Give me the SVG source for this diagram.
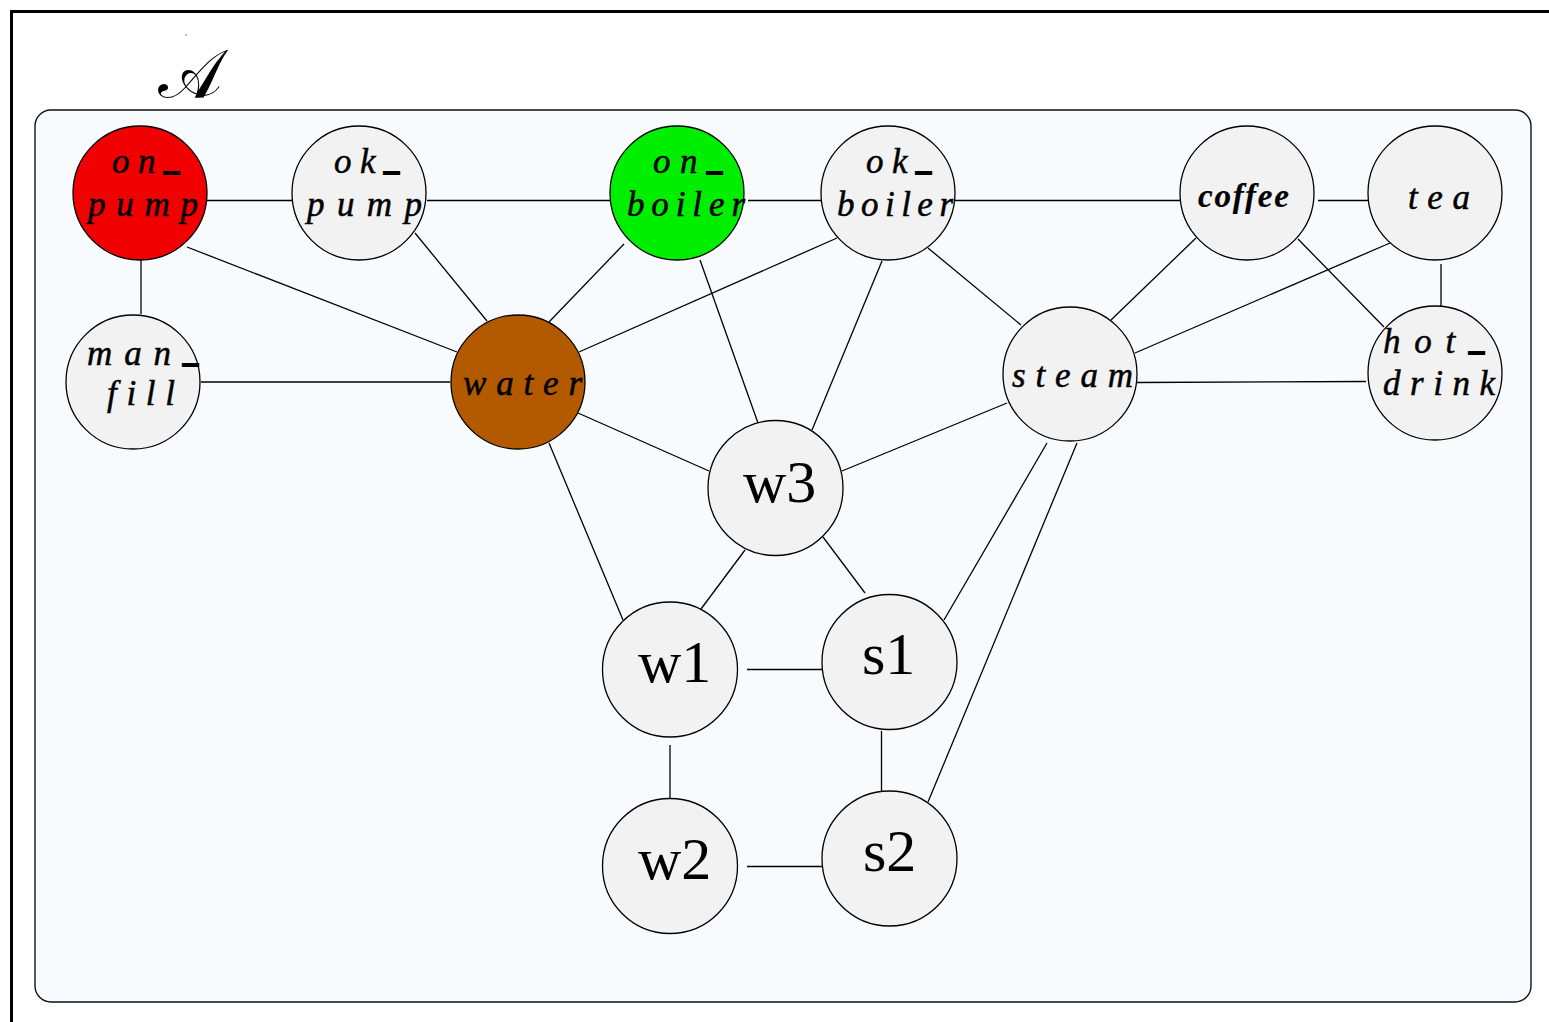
<svg xmlns="http://www.w3.org/2000/svg" width="1549" height="1022" viewBox="0 0 1549 1022">
  <style>
    .frame { fill: none; stroke: #000; stroke-width: 3; }
    .panel { fill: #F7FBFE; stroke: #111; stroke-width: 1.4; }
    .edge { stroke: #000; stroke-width: 1.3; fill: none; }
    .node { fill: #F2F2F2; stroke: #000; stroke-width: 1.3; }
    .lbl { font-family: "Liberation Serif", "Times New Roman", serif; font-style: italic; font-size: 35px; fill: #000; stroke: #000; stroke-width: 0.5; }
    .bold { font-weight: bold; font-size: 33px; stroke-width: 0.2; }
    .us { font-style: normal; font-weight: bold; font-size: 30px; stroke: #000; stroke-width: 1.8; }
    .big { font-family: "Liberation Serif", "Times New Roman", serif; font-size: 60px; fill: #000; }
    .title { font-family: "DejaVu Serif", "DejaVu Sans", serif; font-size: 68px; fill: #000; }
  </style>

  <!-- outer frame (top and left rules) -->
  <g id="frame">
    <path class="frame" d="M 10 11.5 H 1549 M 11.5 10 V 1022"/>
    <circle cx="186" cy="35" r="0.7" fill="#555"/>
    <text class="title" x="190" y="97" text-anchor="middle">𝒜</text>
  </g>

  <!-- container panel -->
  <rect id="panel" class="panel" x="35" y="110" width="1496" height="892" rx="16" ry="16"/>

  <!-- connectors -->
  <g id="connectors">
    <line class="edge" x1="207" y1="200.5" x2="292" y2="200.5"/>
    <line class="edge" x1="427" y1="200.5" x2="610" y2="200.5"/>
    <line class="edge" x1="748" y1="200.5" x2="821" y2="200.5"/>
    <line class="edge" x1="955" y1="200.5" x2="1180" y2="200.5"/>
    <line class="edge" x1="1318" y1="200.5" x2="1368" y2="200.5"/>
    <line class="edge" x1="1441" y1="264" x2="1441" y2="306"/>
    <line class="edge" x1="1298" y1="239" x2="1384" y2="327"/>
    <line class="edge" x1="1390" y1="243" x2="1135" y2="353"/>
    <line class="edge" x1="1196" y1="238" x2="1111" y2="320"/>
    <line class="edge" x1="1137" y1="382.5" x2="1366" y2="381.5"/>
    <line class="edge" x1="928" y1="248" x2="1021" y2="325"/>
    <line class="edge" x1="837" y1="238" x2="579" y2="352"/>
    <line class="edge" x1="882" y1="261" x2="812" y2="430"/>
    <line class="edge" x1="624" y1="244" x2="549" y2="322"/>
    <line class="edge" x1="700" y1="260" x2="758" y2="423"/>
    <line class="edge" x1="415" y1="233" x2="487" y2="321"/>
    <line class="edge" x1="187" y1="247" x2="457" y2="352"/>
    <line class="edge" x1="141" y1="260" x2="141" y2="314"/>
    <line class="edge" x1="201" y1="382" x2="450" y2="382"/>
    <line class="edge" x1="578" y1="413" x2="709" y2="471"/>
    <line class="edge" x1="549" y1="443" x2="623" y2="620"/>
    <line class="edge" x1="1007" y1="403" x2="842" y2="471"/>
    <line class="edge" x1="745" y1="550" x2="701" y2="609"/>
    <line class="edge" x1="823" y1="537" x2="865" y2="593"/>
    <line class="edge" x1="1047" y1="443" x2="944" y2="620"/>
    <line class="edge" x1="1077" y1="443" x2="928" y2="802"/>
    <line class="edge" x1="747" y1="669.5" x2="822" y2="669.5"/>
    <line class="edge" x1="881.5" y1="731" x2="881.5" y2="791"/>
    <line class="edge" x1="670" y1="745" x2="670" y2="798"/>
    <line class="edge" x1="747" y1="866.5" x2="822" y2="866.5"/>
  </g>

  <!-- nodes -->
  <g id="on_pump">
    <circle class="node" cx="140" cy="193" r="67" style="fill:#F00000"/>
    <text class="lbl" x="112" y="173" textLength="67" lengthAdjust="spacing">on<tspan class="us" dy="-3">_</tspan></text>
    <text class="lbl" x="88" y="216" textLength="110" lengthAdjust="spacing">pump</text>
  </g>
  <g id="ok_pump">
    <circle class="node" cx="359" cy="193" r="67"/>
    <text class="lbl" x="334" y="173" textLength="65" lengthAdjust="spacing">ok<tspan class="us" dy="-3">_</tspan></text>
    <text class="lbl" x="307" y="216" textLength="115" lengthAdjust="spacing">pump</text>
  </g>
  <g id="on_boiler">
    <circle class="node" cx="677" cy="193" r="67" style="fill:#00EE00"/>
    <text class="lbl" x="653" y="173" textLength="69" lengthAdjust="spacing">on<tspan class="us" dy="-3">_</tspan></text>
    <text class="lbl" x="627" y="216" textLength="118" lengthAdjust="spacing">boiler</text>
  </g>
  <g id="ok_boiler">
    <circle class="node" cx="888" cy="193" r="67"/>
    <text class="lbl" x="866" y="173" textLength="65" lengthAdjust="spacing">ok<tspan class="us" dy="-3">_</tspan></text>
    <text class="lbl" x="837" y="216" textLength="116" lengthAdjust="spacing">boiler</text>
  </g>
  <g id="coffee">
    <circle class="node" cx="1247" cy="193" r="67"/>
    <text class="lbl bold" x="1198" y="207" textLength="91" lengthAdjust="spacing">coffee</text>
  </g>
  <g id="tea">
    <circle class="node" cx="1435" cy="193" r="67"/>
    <text class="lbl" x="1408" y="209" textLength="62" lengthAdjust="spacing">tea</text>
  </g>
  <g id="man_fill">
    <circle class="node" cx="133" cy="382" r="67"/>
    <text class="lbl" x="87" y="365" textLength="111" lengthAdjust="spacing">man<tspan class="us" dy="-3">_</tspan></text>
    <text class="lbl" x="107" y="405" textLength="68" lengthAdjust="spacing">fill</text>
  </g>
  <g id="water">
    <circle class="node" cx="518" cy="382" r="67" style="fill:#B35900"/>
    <text class="lbl" x="463" y="395" textLength="119" lengthAdjust="spacing">water</text>
  </g>
  <g id="steam">
    <circle class="node" cx="1070" cy="374" r="67"/>
    <text class="lbl" x="1012" y="387" textLength="121" lengthAdjust="spacing">steam</text>
  </g>
  <g id="hot_drink">
    <circle class="node" cx="1435" cy="373" r="67"/>
    <text class="lbl" x="1383" y="353" textLength="101" lengthAdjust="spacing">hot<tspan class="us" dy="-3">_</tspan></text>
    <text class="lbl" x="1383" y="395" textLength="112" lengthAdjust="spacing">drink</text>
  </g>
  <g id="w3">
    <circle class="node" cx="775.5" cy="488" r="67.5"/>
    <text class="big" x="743" y="502">w3</text>
  </g>
  <g id="w1">
    <circle class="node" cx="670" cy="669.5" r="67.5"/>
    <text class="big" x="638" y="682">w1</text>
  </g>
  <g id="s1">
    <circle class="node" cx="889.5" cy="662" r="67.5"/>
    <text class="big" x="862" y="674">s1</text>
  </g>
  <g id="w2">
    <circle class="node" cx="670" cy="866" r="67.5"/>
    <text class="big" x="638" y="879">w2</text>
  </g>
  <g id="s2">
    <circle class="node" cx="889.5" cy="858.5" r="67.5"/>
    <text class="big" x="863" y="871">s2</text>
  </g>
</svg>
